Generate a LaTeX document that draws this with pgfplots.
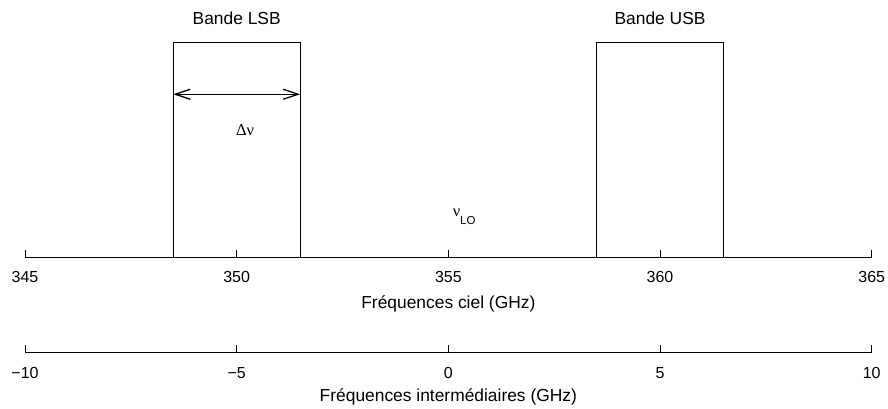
\documentclass[border=0pt]{standalone}
\usepackage{pgfplots}
\pgfplotsset{compat=1.18}
\usepackage{fontspec}
\setmainfont{Liberation Sans}
\newfontfamily\seriffont{Liberation Serif}
\usetikzlibrary{arrows.meta}
\begin{document}
\begin{tikzpicture}[font=\fontsize{17.4}{20}\selectfont]
\begin{axis}[
  at={(0pt,0pt)}, anchor=south west,
  width=846.7pt, height=214.8pt, scale only axis,
  xmin=345, xmax=365, ymin=0, ymax=1,
  axis x line*=bottom, axis y line=none,
  x axis line style={line width=1.8pt},
  xtick={345,350,355,360,365},
  xticklabels={345,350,355,360,365},
  ytick=\empty,
  tick align=inside, major tick length=7pt,
  tick style={line width=0.9pt, black},
  /pgf/number format/assume math mode=true,
  xticklabel style={anchor=base, yshift=-24.8pt, font=\fontsize{16}{19}\selectfont},
  xlabel={Fréquences ciel (GHz)},
  xlabel style={at={(axis description cs:0.5,0)}, anchor=base, yshift=-50.8pt},
  clip=false,
]
\addplot[black, line width=1pt] coordinates {(348.5,0) (348.5,1) (351.5,1) (351.5,0)};
\addplot[black, line width=1pt] coordinates {(358.5,0) (358.5,1) (361.5,1) (361.5,0)};
\addplot[black, line width=1.3pt, {Straight Barb[length=15pt,width=10pt]}-{Straight Barb[length=15pt,width=10pt]}] coordinates {(348.5,0.76) (351.5,0.76)};
\node[anchor=base] at (axis cs:350,1.087) {Bande LSB};
\node[anchor=base] at (axis cs:360,1.087) {Bande USB};
\node[anchor=base, inner sep=0pt, font=\seriffont\fontsize{16.5}{19}\selectfont] at (axis cs:350.2,0.570) {Δν};
\node[anchor=base west, inner sep=0pt] at (axis cs:355.1,0.19) {{\seriffont\fontsize{16.5}{19}\selectfont ν}\raisebox{-7.6pt}{\fontsize{11.5}{13}\selectfont LO}};
\end{axis}
\begin{axis}[
  at={(0pt,-94.8pt)}, anchor=south west,
  width=846.7pt, height=20pt, scale only axis,
  xmin=-10, xmax=10, ymin=0, ymax=1,
  axis x line*=bottom, axis y line=none,
  x axis line style={line width=1.2pt},
  xtick={-10,-5,0,5,10},
  xticklabels={−10,−5,0,5,10},
  ytick=\empty,
  tick align=inside, major tick length=7pt,
  tick style={line width=0.9pt, black},
  /pgf/number format/assume math mode=true,
  xticklabel style={anchor=base, yshift=-26pt, font=\fontsize{16}{19}\selectfont},
  xlabel={Fréquences intermédiaires (GHz)},
  xlabel style={at={(axis description cs:0.5,0)}, anchor=base, yshift=-49.4pt},
  clip=false,
]
\end{axis}
\pgfresetboundingbox
\useasboundingbox (-25pt,-151.5pt) rectangle (863pt,257.5pt);
\end{tikzpicture}
\end{document}
